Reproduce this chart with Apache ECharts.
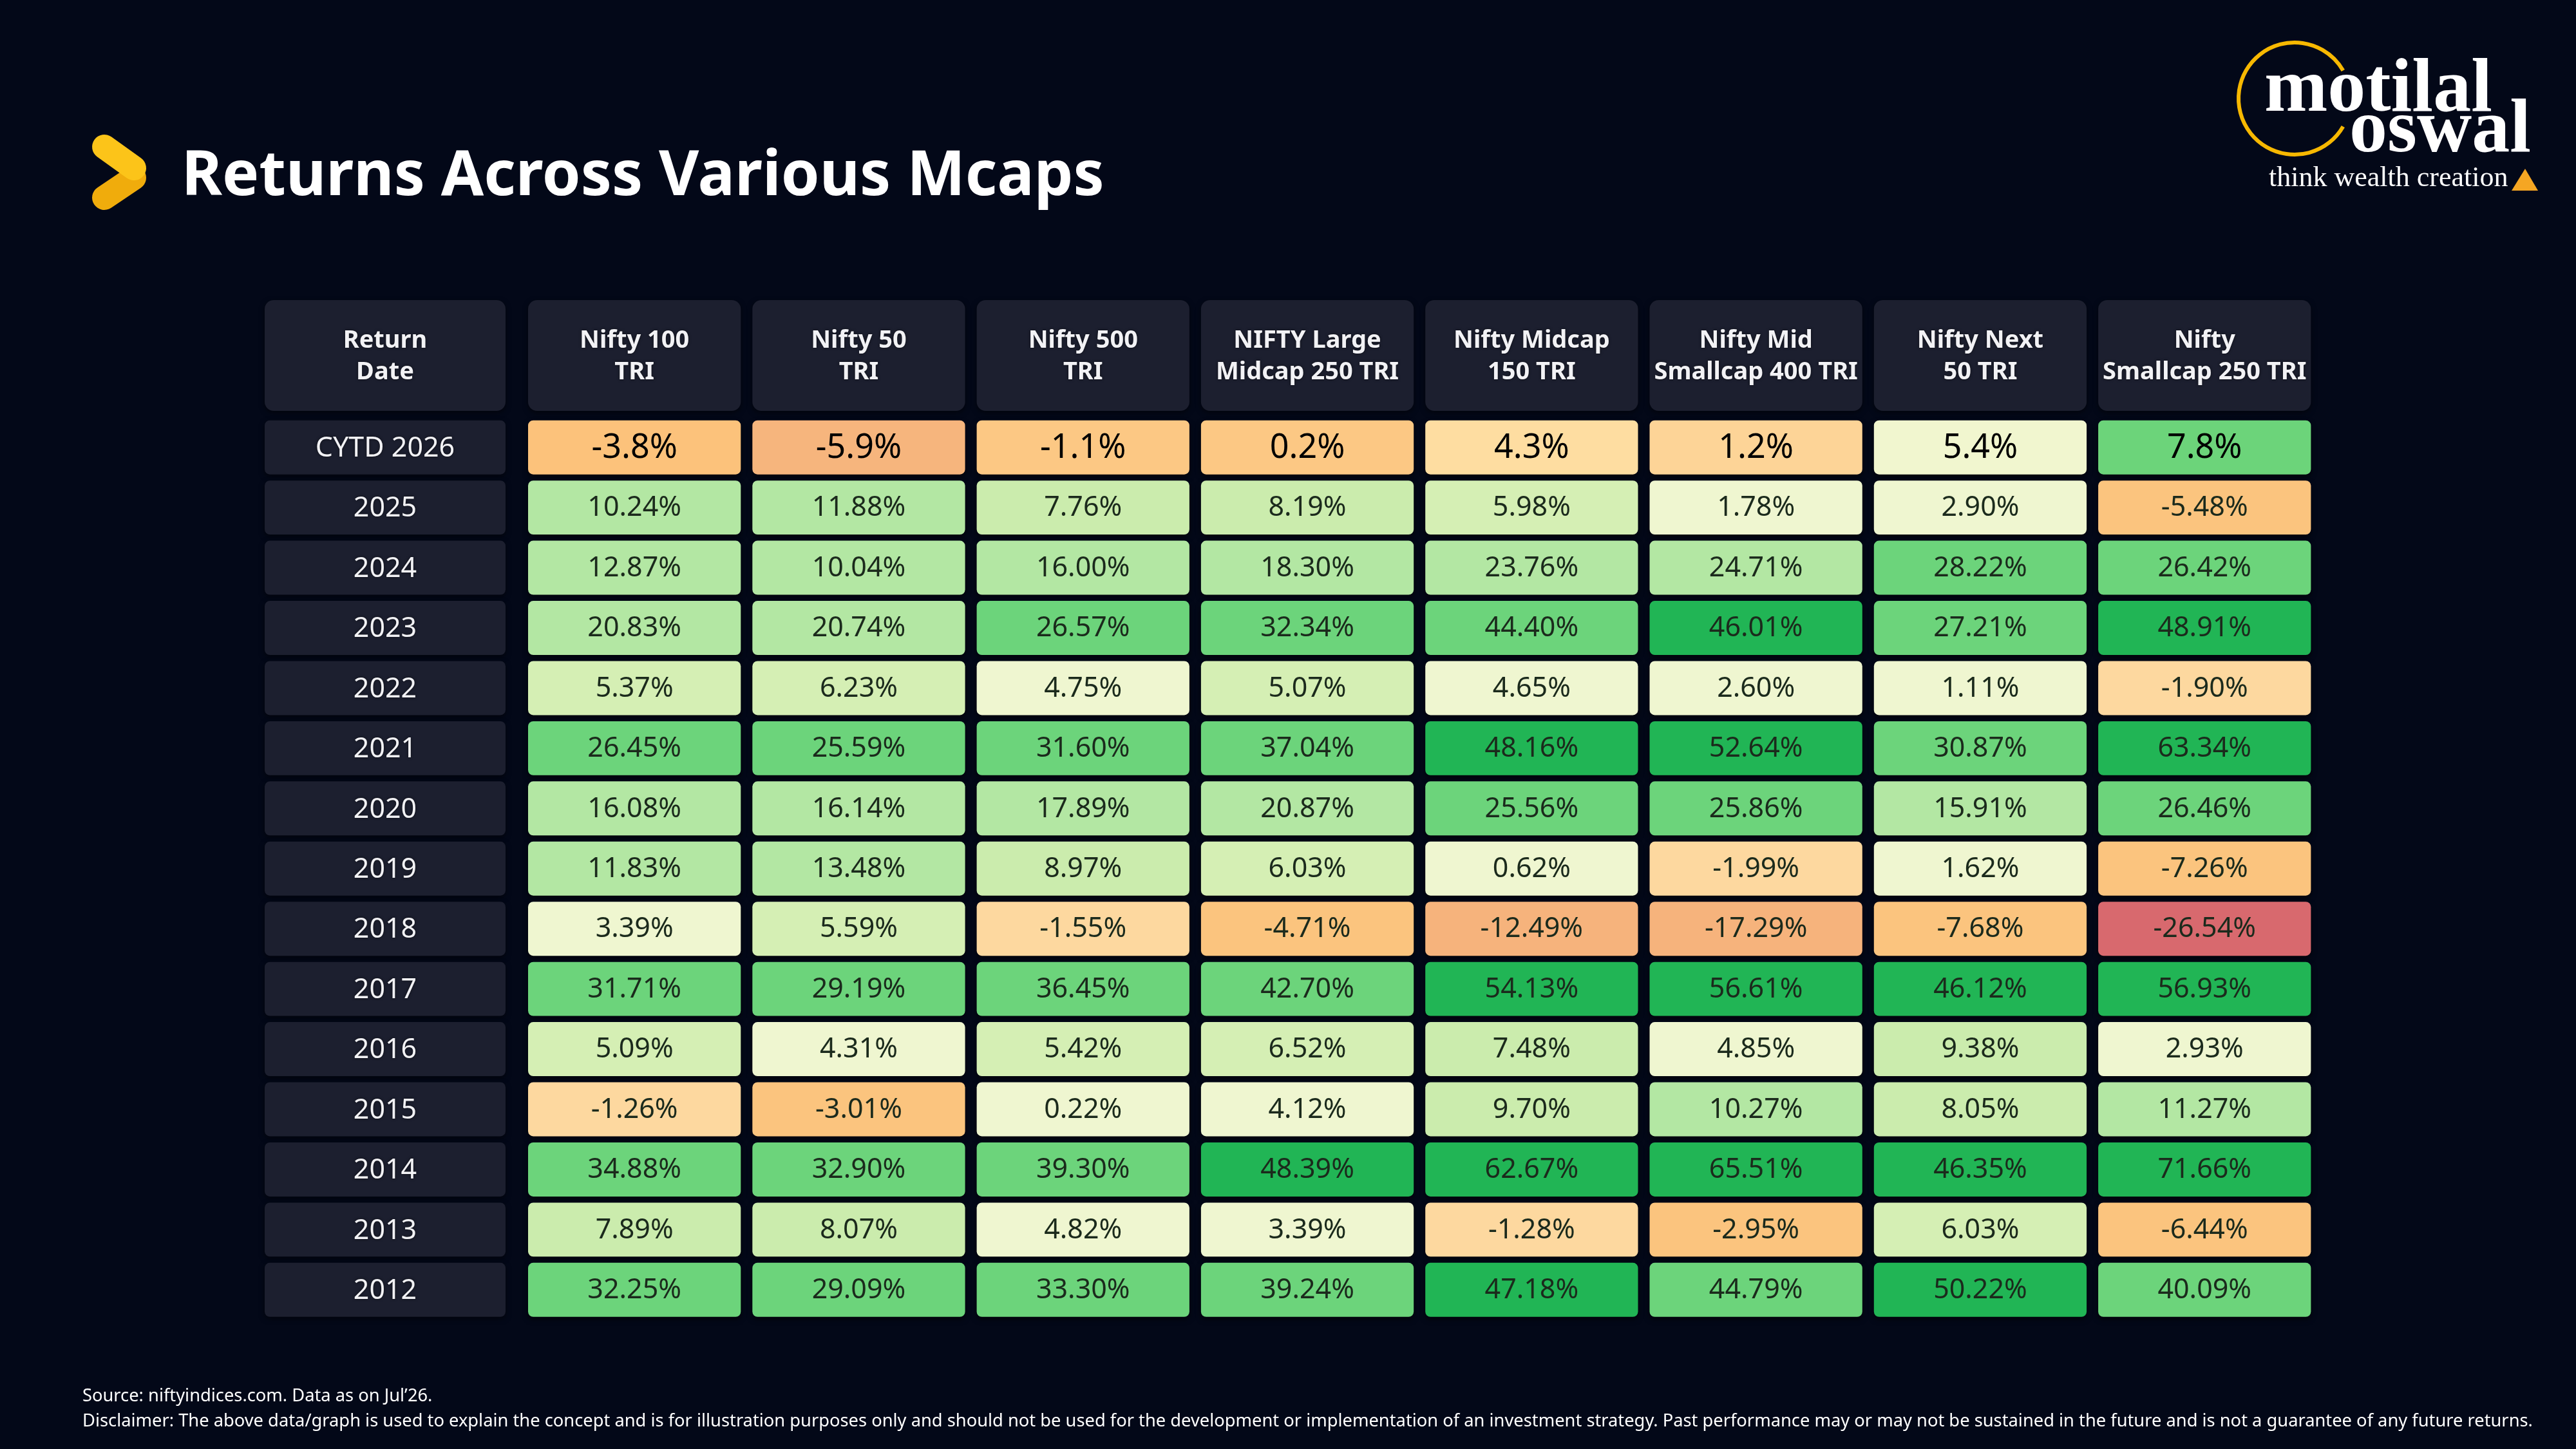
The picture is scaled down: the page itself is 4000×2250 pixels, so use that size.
<!DOCTYPE html>
<html>
<head>
<meta charset="utf-8">
<script src="https://cdn.jsdelivr.net/npm/echarts@6/dist/echarts.min.js"></script>
<style>
html,body{margin:0;padding:0;background:#030818;}
#chart{width:4000px;height:2250px;}
</style>
</head>
<body>
<div id="chart"></div>
<script>
// ---------- DATA ----------
var columns = ['Nifty 100\nTRI', 'Nifty 50\nTRI', 'Nifty 500\nTRI', 'NIFTY Large\nMidcap 250 TRI',
  'Nifty Midcap\n150 TRI', 'Nifty Mid\nSmallcap 400 TRI', 'Nifty Next\n50 TRI', 'Nifty\nSmallcap 250 TRI'];
var rowHeader = 'Return\nDate';
var rowLabels = ['CYTD 2026', '2025', '2024', '2023', '2022', '2021', '2020', '2019', '2018',
  '2017', '2016', '2015', '2014', '2013', '2012'];

var nifty100     = [-3.8, 10.24, 12.87, 20.83, 5.37, 26.45, 16.08, 11.83, 3.39, 31.71, 5.09, -1.26, 34.88, 7.89, 32.25];
var nifty50      = [-5.9, 11.88, 10.04, 20.74, 6.23, 25.59, 16.14, 13.48, 5.59, 29.19, 4.31, -3.01, 32.90, 8.07, 29.09];
var nifty500     = [-1.1, 7.76, 16.00, 26.57, 4.75, 31.60, 17.89, 8.97, -1.55, 36.45, 5.42, 0.22, 39.30, 4.82, 33.30];
var largeMid250  = [0.2, 8.19, 18.30, 32.34, 5.07, 37.04, 20.87, 6.03, -4.71, 42.70, 6.52, 4.12, 48.39, 3.39, 39.24];
var midcap150    = [4.3, 5.98, 23.76, 44.40, 4.65, 48.16, 25.56, 0.62, -12.49, 54.13, 7.48, 9.70, 62.67, -1.28, 47.18];
var midSmall400  = [1.2, 1.78, 24.71, 46.01, 2.60, 52.64, 25.86, -1.99, -17.29, 56.61, 4.85, 10.27, 65.51, -2.95, 44.79];
var next50       = [5.4, 2.90, 28.22, 27.21, 1.11, 30.87, 15.91, 1.62, -7.68, 46.12, 9.38, 8.05, 46.35, 6.03, 50.22];
var smallcap250  = [7.8, -5.48, 26.42, 48.91, -1.90, 63.34, 26.46, -7.26, -26.54, 56.93, 2.93, 11.27, 71.66, -6.44, 40.09];

var seriesCols = [nifty100, nifty50, nifty500, largeMid250, midcap150, midSmall400, next50, smallcap250];

var titleText = 'Returns Across Various Mcaps';
var sourceText = 'Source: niftyindices.com. Data as on Jul\u201926.';
var disclaimerText = 'Disclaimer: The above data/graph is used to explain the concept and is for illustration purposes only and should not be used for the development or implementation of an investment strategy. Past performance may or may not be sustained in the future and is not a guarantee of any future returns.';

// ---------- BUILD ----------
var cytdData = [], histData = [];
seriesCols.forEach(function (arr, c) {
  arr.forEach(function (v, r) {
    if (r === 0) cytdData.push([c, r, v]); else histData.push([c, r, v]);
  });
});
var labelData = rowLabels.map(function (l, r) { return [0, r]; });
var headData = columns.map(function (l, c) { return [c, 0]; });

var BG = '#030818';
var DARK = '#1c1f2f';
var FONT = '"Noto Sans", "Open Sans", sans-serif';

function dataCell(fontSize, textColor, decimals) {
  return function (params, api) {
    var c = api.coord([api.value(0), api.value(1)]);
    var s = api.size([1, 1]);
    var w = s[0] - 18, h = s[1] - 9.5;
    var v = api.value(2);
    return {
      type: 'group',
      children: [
        { type: 'rect', shape: { x: c[0] - w / 2, y: c[1] - h / 2, width: w, height: h, r: 8 },
          style: { fill: api.visual('color'), shadowBlur: 8, shadowColor: 'rgba(0,0,0,0.6)', shadowOffsetY: 4 } },
        { type: 'text', style: { text: v.toFixed(decimals) + '%', x: c[0], y: c[1] + 1,
          align: 'center', verticalAlign: 'middle', fill: textColor,
          font: 'normal ' + fontSize + 'px ' + FONT } }
      ]
    };
  };
}

function darkCell(textFn, font, gapX, gapY, radius, lineHeight) {
  return function (params, api) {
    var c = api.coord([api.value(0), api.value(1)]);
    var s = api.size([1, 1]);
    var w = s[0] - gapX, h = s[1] - gapY;
    return {
      type: 'group',
      children: [
        { type: 'rect', shape: { x: c[0] - w / 2, y: c[1] - h / 2, width: w, height: h, r: radius },
          style: { fill: DARK, shadowBlur: 8, shadowColor: 'rgba(0,0,0,0.5)', shadowOffsetY: 3 } },
        { type: 'text', style: { text: textFn(params.dataIndex), x: c[0], y: c[1] + 2,
          align: 'center', verticalAlign: 'middle', fill: '#f2f2f5', font: font,
          lineHeight: lineHeight || undefined,
          textShadowBlur: 4, textShadowColor: 'rgba(0,0,0,0.6)' } }
      ]
    };
  };
}

var DATA_LEFT = 811, DATA_W = 2786.4, BODY_TOP = 648, BODY_H = 1401.5;
var LAB_LEFT = 411, LAB_W = 374, HEAD_TOP = 466, HEAD_H = 172;

var chart = echarts.init(document.getElementById('chart'), null, { renderer: 'canvas', width: 4000, height: 2250 });

var option = {
  backgroundColor: BG,
  animation: false,
  grid: [
    { left: DATA_LEFT, top: BODY_TOP, width: DATA_W, height: BODY_H },
    { left: LAB_LEFT, top: BODY_TOP, width: LAB_W, height: BODY_H },
    { left: DATA_LEFT, top: HEAD_TOP, width: DATA_W, height: HEAD_H },
    { left: LAB_LEFT, top: HEAD_TOP, width: LAB_W, height: HEAD_H }
  ],
  xAxis: [
    { type: 'category', gridIndex: 0, data: columns, show: false },
    { type: 'category', gridIndex: 1, data: [rowHeader], show: false },
    { type: 'category', gridIndex: 2, data: columns, show: false },
    { type: 'category', gridIndex: 3, data: [rowHeader], show: false }
  ],
  yAxis: [
    { type: 'category', gridIndex: 0, data: rowLabels, inverse: true, show: false },
    { type: 'category', gridIndex: 1, data: rowLabels, inverse: true, show: false },
    { type: 'category', gridIndex: 2, data: ['head'], show: false },
    { type: 'category', gridIndex: 3, data: ['head'], show: false }
  ],
  visualMap: [
    { type: 'piecewise', show: false, seriesIndex: 0, dimension: 2,
      pieces: [
        { gte: 7, color: '#6cd47a' },
        { gte: 5, lt: 7, color: '#f1f6cf' },
        { gte: 3, lt: 5, color: '#fedda1' },
        { gte: 1, lt: 3, color: '#fdd497' },
        { gte: -2, lt: 1, color: '#fcc884' },
        { gte: -5, lt: -2, color: '#fcc27b' },
        { lt: -5, color: '#f6b57d' }
      ] },
    { type: 'piecewise', show: false, seriesIndex: 1, dimension: 2,
      pieces: [
        { gte: 45, color: '#21b555' },
        { gte: 25, lt: 45, color: '#6cd47b' },
        { gte: 10, lt: 25, color: '#b3e7a3' },
        { gte: 7, lt: 10, color: '#cbecad' },
        { gte: 5, lt: 7, color: '#d5efb4' },
        { gte: 0, lt: 5, color: '#eff6d0' },
        { gte: -2.5, lt: 0, color: '#fdd89f' },
        { gte: -10, lt: -2.5, color: '#fbc47e' },
        { gte: -20, lt: -10, color: '#f6b37c' },
        { lt: -20, color: '#d8696e' }
      ] }
  ],
  series: [
    { type: 'custom', xAxisIndex: 0, yAxisIndex: 0, data: cytdData, encode: { x: 0, y: 1 },
      renderItem: dataCell(52, '#000000', 1) },
    { type: 'custom', xAxisIndex: 0, yAxisIndex: 0, data: histData, encode: { x: 0, y: 1 },
      renderItem: dataCell(43, '#1b2a1c', 2) },
    { type: 'custom', xAxisIndex: 1, yAxisIndex: 1, data: labelData, encode: { x: 0, y: 1 },
      renderItem: darkCell(function (i) { return rowLabels[i]; }, 'normal 43px ' + FONT, 0, 9.5, 8) },
    { type: 'custom', xAxisIndex: 2, yAxisIndex: 2, data: headData, encode: { x: 0, y: 1 },
      renderItem: darkCell(function (i) { return columns[i]; }, 'bold 38px ' + FONT, 18, 0, 14, 49) },
    { type: 'custom', xAxisIndex: 3, yAxisIndex: 3, data: [[0, 0]], encode: { x: 0, y: 1 },
      renderItem: darkCell(function () { return rowHeader; }, 'bold 38px ' + FONT, 0, 0, 14, 49) }
  ],
  graphic: [
    // title chevron
    { type: 'polyline', shape: { points: [[208, 276], [162, 307]] },
      style: { stroke: '#f0ac0c', lineWidth: 38, lineCap: 'round', fill: null } },
    { type: 'polyline', shape: { points: [[162, 228], [208, 261]] },
      style: { stroke: '#fcc419', lineWidth: 38, lineCap: 'round', fill: null } },
    { type: 'text', left: 282, top: 228,
      style: { text: titleText, fill: '#ffffff', font: 'bold 96px ' + FONT } },
    // logo
    { type: 'arc', shape: { cx: 3563, cy: 153, r: 87, startAngle: Math.PI / 6, endAngle: Math.PI * 11 / 6, clockwise: true },
      style: { stroke: '#f7b801', lineWidth: 6, fill: null } },
    { type: 'text', x: 3516, y: 142,
      style: { text: 'motilal', fill: '#ffffff', font: 'bold 118px "Liberation Serif", serif', align: 'left', verticalAlign: 'middle' } },
    { type: 'text', x: 3648, y: 205,
      style: { text: 'oswal', fill: '#ffffff', font: 'bold 118px "Liberation Serif", serif', align: 'left', verticalAlign: 'middle' } },
    { type: 'text', x: 3523, y: 277,
      style: { text: 'think wealth creation', fill: '#ffffff', font: 'normal 44px "Liberation Serif", serif', align: 'left', verticalAlign: 'middle' } },
    { type: 'polygon', shape: { points: [[3900, 296], [3941, 296], [3921, 262]] },
      style: { fill: '#f5a623' } },
    // footer
    { type: 'text', x: 128, y: 2168,
      style: { text: sourceText, fill: '#ffffff', font: 'normal 27.3px ' + FONT, verticalAlign: 'middle' } },
    { type: 'text', x: 128, y: 2207,
      style: { text: disclaimerText, fill: '#ffffff', font: 'normal 27.3px ' + FONT, verticalAlign: 'middle' } }
  ]
};
chart.setOption(option);
</script>
</body>
</html>
